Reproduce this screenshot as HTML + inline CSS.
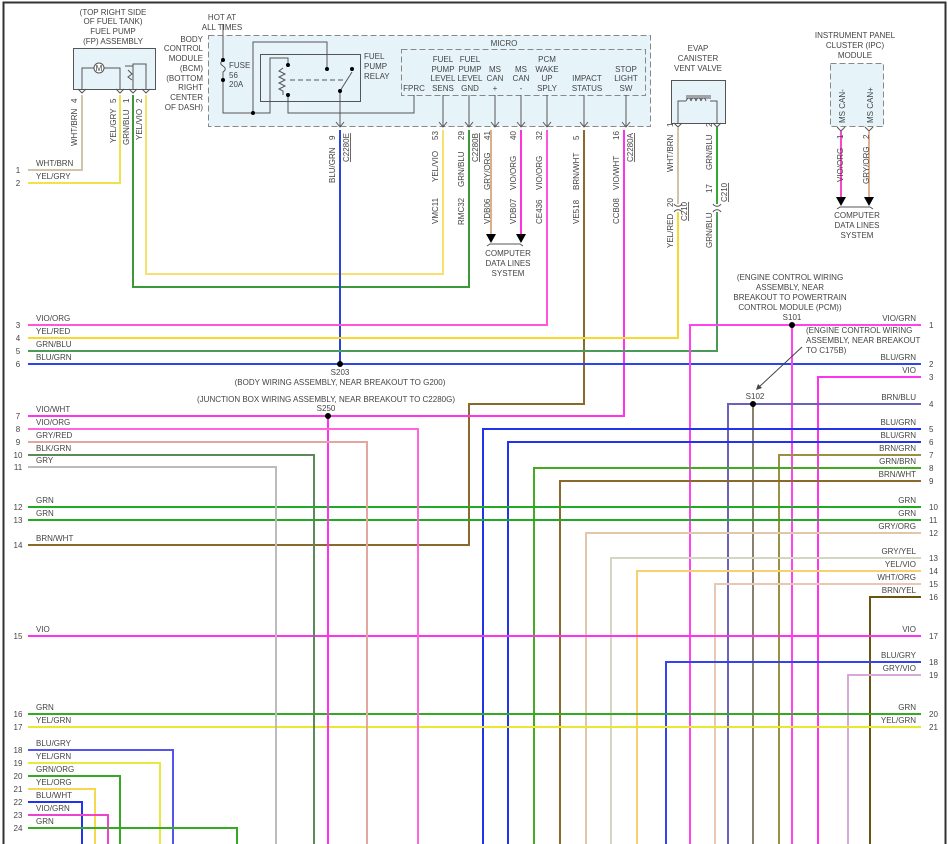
<!DOCTYPE html>
<html><head><meta charset="utf-8"><style>
html,body{margin:0;padding:0;background:#fff;}
svg{display:block;font-family:"Liberation Sans",sans-serif;}
text{font-size:8px;fill:#444;}
.w{fill:none;stroke-width:2;}
</style></head><body>
<svg width="948" height="844" viewBox="0 0 948 844" xmlns="http://www.w3.org/2000/svg">
<rect x="3.5" y="2.5" width="942" height="850" fill="none" stroke="#333" stroke-width="2"/>

<!-- FP assembly -->
<g text-anchor="middle"><text x="113" y="15">(TOP RIGHT SIDE</text><text x="113" y="24">OF FUEL TANK)</text><text x="113" y="34">FUEL PUMP</text><text x="113" y="44">(FP) ASSEMBLY</text></g>
<rect x="73.5" y="48.5" width="82" height="41" fill="#e6f4fa" stroke="#555"/>
<circle cx="99" cy="68" r="5" fill="#fff" stroke="#555"/><text x="99" y="71" text-anchor="middle" font-size="7">M</text>
<path d="M82 89V68H94M104 68H120V89M133 89V64H146V89M125 66H133V72M128 70l4 4-4 3 4 3" fill="none" stroke="#555"/>
<g fill="none" stroke="#555"><path d="M78 89l4 4 4-4M116 89l4 4 4-4M129 89l4 4 4-4M142 89l4 4 4-4"/></g>

<!-- BCM -->
<g text-anchor="middle"><text x="222" y="20">HOT AT</text><text x="222" y="30">ALL TIMES</text></g>
<g text-anchor="end"><text x="203" y="42">BODY</text><text x="203" y="51">CONTROL</text><text x="203" y="61">MODULE</text><text x="203" y="71">(BCM)</text><text x="203" y="81">(BOTTOM</text><text x="203" y="90">RIGHT</text><text x="203" y="100">CENTER</text><text x="203" y="110">OF DASH)</text></g>
<rect x="208.5" y="35.5" width="442" height="91" fill="#e6f4fa" stroke="#888" stroke-dasharray="6,3"/>
<rect x="401.5" y="49.5" width="244" height="46" fill="none" stroke="#888" stroke-dasharray="6,3"/>
<text x="504" y="46" text-anchor="middle">MICRO</text>
<g fill="none" stroke="#555">
<path d="M223 24V60M223 80V113H270V58H288V65M223 60c-3 3-3 4 0 6c3 2 3 4 0 6V80"/>
<path d="M253 113V42H327V69"/>
<rect x="260.5" y="54.5" width="100" height="47"/>
<path d="M283 68l-4 3 6 3-6 3 6 3-6 3 6 3-6 3 4 2V95"/>
<path d="M288 95V113H414V95"/>
<path d="M340 91L352 72M340 91V127"/>
<path d="M290 80H345" stroke-dasharray="5,3"/>
</g>
<g fill="#000"><circle cx="223" cy="60" r="2"/><circle cx="223" cy="80" r="2"/><circle cx="253" cy="113" r="2"/><circle cx="327" cy="69" r="2"/><circle cx="288" cy="65" r="2"/><circle cx="288" cy="95" r="2"/><circle cx="340" cy="91" r="2"/><circle cx="352" cy="69" r="2"/></g>
<g><text x="229" y="68">FUSE</text><text x="229" y="78">56</text><text x="229" y="87">20A</text><text x="364" y="59">FUEL</text><text x="364" y="69">PUMP</text><text x="364" y="79">RELAY</text></g>
<g text-anchor="middle">
<text x="414" y="91">FPRC</text>
<text x="443" y="62">FUEL</text><text x="443" y="72">PUMP</text><text x="443" y="81">LEVEL</text><text x="443" y="91">SENS</text>
<text x="470" y="62">FUEL</text><text x="470" y="72">PUMP</text><text x="470" y="81">LEVEL</text><text x="470" y="91">GND</text>
<text x="495" y="72">MS</text><text x="495" y="81">CAN</text><text x="495" y="91">+</text>
<text x="521" y="72">MS</text><text x="521" y="81">CAN</text><text x="521" y="91">-</text>
<text x="547" y="62">PCM</text><text x="547" y="72">WAKE</text><text x="547" y="81">UP</text><text x="547" y="91">SPLY</text>
<text x="587" y="81">IMPACT</text><text x="587" y="91">STATUS</text>
<text x="626" y="72">STOP</text><text x="626" y="81">LIGHT</text><text x="626" y="91">SW</text>
</g>
<g fill="none" stroke="#555"><path d="M443 95V127M469 95V127M495 95V127M521 95V127M547 95V127M584 95V127M626 95V127"/>
<path d="M336 122l4 5 4-5M439 122l4 5 4-5M465 122l4 5 4-5M491 122l4 5 4-5M517 122l4 5 4-5M543 122l4 5 4-5M580 122l4 5 4-5M622 122l4 5 4-5"/></g>

<!-- EVAP -->
<g text-anchor="middle"><text x="698" y="51">EVAP</text><text x="698" y="61">CANISTER</text><text x="698" y="71">VENT VALVE</text></g>
<rect x="671.5" y="80.5" width="54" height="43" fill="#e6f4fa" stroke="#555"/>
<path d="M678 123V101H686M710 101H717V123M686 96h25M686 98h25M686 101c2-4 4-4 5 0c1-4 4-4 5 0c1-4 4-4 5 0c1-4 4-4 5 0" fill="none" stroke="#555"/>
<path d="M674 123l4 4 4-4M713 123l4 4 4-4" fill="none" stroke="#555"/>

<!-- IPC -->
<g text-anchor="middle"><text x="855" y="38">INSTRUMENT PANEL</text><text x="855" y="48">CLUSTER (IPC)</text><text x="855" y="58">MODULE</text></g>
<rect x="830.5" y="63.5" width="53" height="63" fill="#e6f4fa" stroke="#888" stroke-dasharray="6,3"/>
<text transform="translate(845,123) rotate(-90)">MS CAN-</text>
<text transform="translate(873,123) rotate(-90)">MS CAN+</text>
<path d="M837 127l4 4 4-4M865 127l4 4 4-4" fill="none" stroke="#555"/>

<!-- wires -->
<g class="w">
<polyline points="28,170 82,170 82,95" stroke="#cfc4aa"/>
<polyline points="28,183 120,183 120,95" stroke="#efe24a"/>
<polyline points="133,95 133,287 469,287 469,130" stroke="#3a9a3a"/>
<polyline points="146,95 146,274 443,274 443,130" stroke="#f5e070"/>
<polyline points="340,130 340,364" stroke="#2a44dd"/>
<polyline points="491,130 491,234" stroke="#d8b08a"/>
<polyline points="521,130 521,234" stroke="#ff33dd"/>
<polyline points="547,130 547,325 28,325" stroke="#ff55dd"/>
<polyline points="584,130 584,404 469,404 469,545 28,545" stroke="#8a6a2a"/>
<polyline points="624,130 624,416 28,416" stroke="#ff33ee"/>
<polyline points="678,127 678,204" stroke="#cfc4aa"/>
<polyline points="678,212 678,338 28,338" stroke="#f5d830"/>
<polyline points="717,127 717,204" stroke="#33aa33"/>
<polyline points="717,212 717,351 28,351" stroke="#4a9a5a"/>
<polyline points="841,131 841,198" stroke="#ff44cc"/>
<polyline points="869,131 869,198" stroke="#e0b090"/>
<polyline points="28,364 921,364" stroke="#2a44ee"/>
<polyline points="690,844 690,325 921,325" stroke="#ff44ee"/>
<polyline points="792,325 792,844" stroke="#ff44ee"/>
<polyline points="818,844 818,377 921,377" stroke="#ff33ee"/>
<polyline points="728,844 728,404 921,404" stroke="#6a62b8"/>
<polyline points="753,404 753,844" stroke="#8a8070"/>
<polyline points="483,844 483,429 921,429" stroke="#2233ee"/>
<polyline points="508,844 508,442 921,442" stroke="#2233ee"/>
<polyline points="779,844 779,455 921,455" stroke="#9a9040"/>
<polyline points="534,844 534,468 921,468" stroke="#44aa22"/>
<polyline points="560,844 560,481 921,481" stroke="#8a6a2a"/>
<polyline points="28,507 921,507" stroke="#22aa22"/>
<polyline points="28,520 921,520" stroke="#22aa22"/>
<polyline points="586,844 586,533 921,533" stroke="#e2c6aa"/>
<polyline points="611,844 611,558 921,558" stroke="#d6d6c0"/>
<polyline points="637,844 637,571 921,571" stroke="#f8d070"/>
<polyline points="715,844 715,584 921,584" stroke="#e8c8b0"/>
<polyline points="870,844 870,597 921,597" stroke="#6a5410"/>
<polyline points="28,636 921,636" stroke="#ff33ee"/>
<polyline points="666,844 666,662 921,662" stroke="#3344ee"/>
<polyline points="848,844 848,675 921,675" stroke="#d8a8d8"/>
<polyline points="28,714 921,714" stroke="#33aa22"/>
<polyline points="28,727 921,727" stroke="#e8e830"/>
<polyline points="328,416 328,844" stroke="#ff33ee"/>
<polyline points="28,429 418,429 418,844" stroke="#ff66dd"/>
<polyline points="28,442 367,442 367,844" stroke="#e2a8a0"/>
<polyline points="28,455 314,455 314,844" stroke="#5a8a5a"/>
<polyline points="28,467 276,467 276,844" stroke="#bbbbbb"/>
<polyline points="28,750 173,750 173,844" stroke="#5555ee"/>
<polyline points="28,763 160,763 160,844" stroke="#e8e840"/>
<polyline points="28,776 120,776 120,844" stroke="#33aa22"/>
<polyline points="28,789 95,789 95,844" stroke="#f5d850"/>
<polyline points="28,802 82,802 82,844" stroke="#2233ee"/>
<polyline points="28,815 108,815 108,844" stroke="#ee44cc"/>
<polyline points="28,828 237,828 237,844" stroke="#33aa22"/>
</g>
<!-- C210 -->
<path d="M674 204c2 3 6 3 8 0M674 212c2-3 6-3 8 0M713 204c2 3 6 3 8 0M713 212c2-3 6-3 8 0" fill="none" stroke="#555"/>
<!-- arrowheads -->
<g fill="#000"><path d="M486 234h10l-5 9zM516 234h10l-5 9zM836 197h10l-5 9zM864 197h10l-5 9z"/></g>
<path d="M487 246l3 -2h30l3 2M837 209l3-2h30l3 2" fill="none" stroke="#555"/>
<g text-anchor="middle"><text x="508" y="256">COMPUTER</text><text x="508" y="266">DATA LINES</text><text x="508" y="276">SYSTEM</text>
<text x="857" y="218">COMPUTER</text><text x="857" y="228">DATA LINES</text><text x="857" y="238">SYSTEM</text></g>

<!-- vertical labels -->
<g>
<text transform="translate(77,146) rotate(-90)">WHT/BRN</text>
<text transform="translate(116,143) rotate(-90)">YEL/GRY</text>
<text transform="translate(129,145) rotate(-90)">GRN/BLU</text>
<text transform="translate(142,140) rotate(-90)">YEL/VIO</text>
<text transform="translate(77,103) rotate(-90)">4</text><text transform="translate(116,103) rotate(-90)">5</text><text transform="translate(129,103) rotate(-90)">1</text><text transform="translate(142,103) rotate(-90)">2</text>
<text transform="translate(335,140) rotate(-90)">9</text>
<text transform="translate(335,183) rotate(-90)">BLU/GRN</text>
<text transform="translate(349,162) rotate(-90)" text-decoration="underline">C2280E</text>
<text transform="translate(438,140) rotate(-90)">53</text><text transform="translate(438,182) rotate(-90)">YEL/VIO</text><text transform="translate(438,224) rotate(-90)">VMC11</text>
<text transform="translate(464,140) rotate(-90)">29</text><text transform="translate(464,187) rotate(-90)">GRN/BLU</text><text transform="translate(464,225) rotate(-90)">RMC32</text>
<text transform="translate(478,162) rotate(-90)" text-decoration="underline">C2280B</text>
<text transform="translate(490,140) rotate(-90)">41</text><text transform="translate(490,190) rotate(-90)">GRY/ORG</text><text transform="translate(490,224) rotate(-90)">VDB06</text>
<text transform="translate(516,140) rotate(-90)">40</text><text transform="translate(516,190) rotate(-90)">VIO/ORG</text><text transform="translate(516,224) rotate(-90)">VDB07</text>
<text transform="translate(542,140) rotate(-90)">32</text><text transform="translate(542,190) rotate(-90)">VIO/ORG</text><text transform="translate(542,224) rotate(-90)">CE436</text>
<text transform="translate(579,140) rotate(-90)">5</text><text transform="translate(579,190) rotate(-90)">BRN/WHT</text><text transform="translate(579,224) rotate(-90)">VE518</text>
<text transform="translate(619,140) rotate(-90)">16</text><text transform="translate(619,190) rotate(-90)">VIO/WHT</text><text transform="translate(619,224) rotate(-90)">CCB08</text>
<text transform="translate(633,162) rotate(-90)" text-decoration="underline">C2280A</text>
<text transform="translate(673,127) rotate(-90)">1</text><text transform="translate(673,172) rotate(-90)">WHT/BRN</text>
<text transform="translate(712,127) rotate(-90)">2</text><text transform="translate(712,170) rotate(-90)">GRN/BLU</text>
<text transform="translate(673,207) rotate(-90)">20</text><text transform="translate(673,248) rotate(-90)">YEL/RED</text>
<text transform="translate(687,221) rotate(-90)" text-decoration="underline">C210</text>
<text transform="translate(712,193) rotate(-90)">17</text><text transform="translate(712,248) rotate(-90)">GRN/BLU</text>
<text transform="translate(727,202) rotate(-90)" text-decoration="underline">C210</text>
<text transform="translate(843,139) rotate(-90)">1</text><text transform="translate(843,182) rotate(-90)">VIO/ORG</text>
<text transform="translate(869,139) rotate(-90)">2</text><text transform="translate(869,184) rotate(-90)">GRY/ORG</text>
</g>

<!-- splices -->
<g fill="#000"><circle cx="340" cy="364" r="3"/><circle cx="328" cy="416" r="3"/><circle cx="792" cy="325" r="3"/><circle cx="753" cy="404" r="3"/></g>
<g text-anchor="middle">
<text x="340" y="375">S203</text><text x="340" y="385">(BODY WIRING ASSEMBLY, NEAR BREAKOUT TO G200)</text>
<text x="326" y="402">(JUNCTION BOX WIRING ASSEMBLY, NEAR BREAKOUT TO C2280G)</text><text x="326" y="411">S250</text>
<text x="790" y="280">(ENGINE CONTROL WIRING</text><text x="790" y="290">ASSEMBLY, NEAR</text><text x="790" y="300">BREAKOUT TO POWERTRAIN</text><text x="790" y="310">CONTROL MODULE (PCM))</text><text x="792" y="320">S101</text>
<text x="755" y="399">S102</text>
</g>
<g><text x="806" y="333">(ENGINE CONTROL WIRING</text><text x="806" y="343">ASSEMBLY, NEAR BREAKOUT</text><text x="806" y="353">TO C175B)</text></g>
<path d="M802 347L758 388" stroke="#444" fill="none"/><path d="M756 390l2-6 4 4z" fill="#444"/>

<!-- left labels -->
<g>
<text x="36" y="166">WHT/BRN</text><text x="36" y="179">YEL/GRY</text>
<text x="36" y="321">VIO/ORG</text><text x="36" y="334">YEL/RED</text><text x="36" y="347">GRN/BLU</text><text x="36" y="360">BLU/GRN</text>
<text x="36" y="412">VIO/WHT</text><text x="36" y="425">VIO/ORG</text><text x="36" y="438">GRY/RED</text><text x="36" y="451">BLK/GRN</text><text x="36" y="463">GRY</text>
<text x="36" y="503">GRN</text><text x="36" y="516">GRN</text><text x="36" y="541">BRN/WHT</text><text x="36" y="632">VIO</text>
<text x="36" y="710">GRN</text><text x="36" y="723">YEL/GRN</text><text x="36" y="746">BLU/GRY</text><text x="36" y="759">YEL/GRN</text><text x="36" y="772">GRN/ORG</text><text x="36" y="785">YEL/ORG</text><text x="36" y="798">BLU/WHT</text><text x="36" y="811">VIO/GRN</text><text x="36" y="824">GRN</text>
</g>
<g text-anchor="middle">
<text x="18" y="173">1</text><text x="18" y="186">2</text><text x="18" y="328">3</text><text x="18" y="341">4</text><text x="18" y="354">5</text><text x="18" y="367">6</text><text x="18" y="419">7</text><text x="18" y="432">8</text><text x="18" y="445">9</text><text x="18" y="458">10</text><text x="18" y="470">11</text><text x="18" y="510">12</text><text x="18" y="523">13</text><text x="18" y="548">14</text><text x="18" y="639">15</text><text x="18" y="717">16</text><text x="18" y="730">17</text><text x="18" y="753">18</text><text x="18" y="766">19</text><text x="18" y="779">20</text><text x="18" y="792">21</text><text x="18" y="805">22</text><text x="18" y="818">23</text><text x="18" y="831">24</text>
</g>
<!-- right labels -->
<g text-anchor="end">
<text x="916" y="321">VIO/GRN</text><text x="916" y="360">BLU/GRN</text><text x="916" y="373">VIO</text><text x="916" y="400">BRN/BLU</text><text x="916" y="425">BLU/GRN</text><text x="916" y="438">BLU/GRN</text><text x="916" y="451">BRN/GRN</text><text x="916" y="464">GRN/BRN</text><text x="916" y="477">BRN/WHT</text><text x="916" y="503">GRN</text><text x="916" y="516">GRN</text><text x="916" y="529">GRY/ORG</text><text x="916" y="554">GRY/YEL</text><text x="916" y="567">YEL/VIO</text><text x="916" y="580">WHT/ORG</text><text x="916" y="593">BRN/YEL</text><text x="916" y="632">VIO</text><text x="916" y="658">BLU/GRY</text><text x="916" y="671">GRY/VIO</text><text x="916" y="710">GRN</text><text x="916" y="723">YEL/GRN</text>
</g>
<g>
<text x="929" y="328">1</text><text x="929" y="367">2</text><text x="929" y="380">3</text><text x="929" y="407">4</text><text x="929" y="432">5</text><text x="929" y="445">6</text><text x="929" y="458">7</text><text x="929" y="471">8</text><text x="929" y="484">9</text><text x="929" y="510">10</text><text x="929" y="523">11</text><text x="929" y="536">12</text><text x="929" y="561">13</text><text x="929" y="574">14</text><text x="929" y="587">15</text><text x="929" y="600">16</text><text x="929" y="639">17</text><text x="929" y="665">18</text><text x="929" y="678">19</text><text x="929" y="717">20</text><text x="929" y="730">21</text>
</g>
</svg>
</body></html>
